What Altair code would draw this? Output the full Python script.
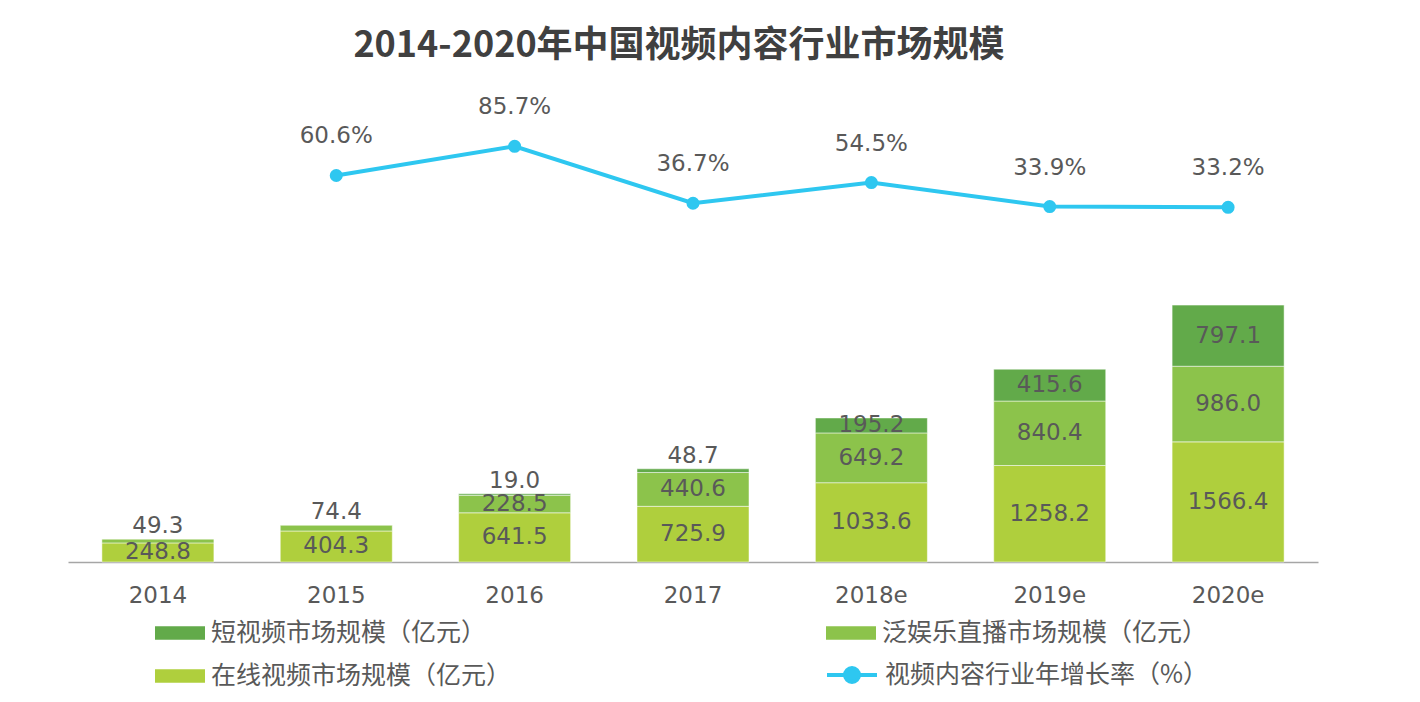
import altair as alt
import pandas as pd

years = ["2014", "2015", "2016", "2017", "2018e", "2019e", "2020e"]
online = [248.8, 404.3, 641.5, 725.9, 1033.6, 1258.2, 1566.4]
live = [49.3, 74.4, 228.5, 440.6, 649.2, 840.4, 986.0]
short = [None, None, 19.0, 48.7, 195.2, 415.6, 797.1]
growth = [None, 60.6, 85.7, 36.7, 54.5, 33.9, 33.2]

S_SHORT = "短视频市场规模（亿元）"
S_LIVE = "泛娱乐直播市场规模（亿元）"
S_ONLINE = "在线视频市场规模（亿元）"
S_RATE = "视频内容行业年增长率（%）"

series_names = [S_SHORT, S_LIVE, S_ONLINE]
series_colors = ["#62AA4A", "#8CC34B", "#AFCF3D"]
stack_rank = {S_ONLINE: 0, S_LIVE: 1, S_SHORT: 2}

rows = []
for i, y in enumerate(years):
    for name, vals in [(S_ONLINE, online), (S_LIVE, live), (S_SHORT, short)]:
        v = vals[i]
        if v is not None:
            rows.append({"year": y, "series": name, "value": v, "rank": stack_rank[name]})
bars_df = pd.DataFrame(rows)

line_df = pd.DataFrame({"year": years, "rate": growth, "name": [S_RATE] * len(years)}).dropna()

FONT = "Noto Sans CJK SC"
NUMFONT = "DejaVu Sans"
TXT = "#595959"
LINE_C = "#2EC7F0"

xenc = alt.X("year:N", sort=years, title=None,
             scale=alt.Scale(paddingInner=0.372, paddingOuter=0.19),
             axis=alt.Axis(labelFontSize=23, labelColor=TXT, labelFont=NUMFONT, ticks=False,
                           domainColor="#A6A6A6", domainWidth=1.5, labelPadding=22, labelAngle=0))

rect_path = "M-1,-0.27L1,-0.27L1,0.27L-1,0.27Z"
line_path = "M-1,0L1,0M-0.28,0A0.28,0.28,0,1,0,0.28,0A0.28,0.28,0,1,0,-0.28,0Z"

base = alt.Chart(bars_df).transform_stack(
    stack="value", groupby=["year"], as_=["y0", "y1"], sort=[alt.SortField("rank", order="ascending")]
).transform_calculate(mid="(datum.y0 + datum.y1) / 2")

yscale = alt.Scale(domain=[0, 6076])

bars = base.mark_bar(stroke="white", strokeWidth=0.5).encode(
    x=xenc,
    y=alt.Y("y0:Q", scale=yscale, axis=None),
    y2="y1:Q",
    color=alt.Color("series:N", scale=alt.Scale(domain=series_names, range=series_colors),
                    legend=alt.Legend(orient="none", legendX=87, legendY=512, columns=2,
                                      direction="horizontal",
                                      title=None, symbolType=rect_path, symbolSize=2500,
                                      symbolStrokeWidth=0, labelFontSize=25, labelFont=FONT,
                                      labelColor=TXT, labelOffset=6, columnPadding=314,
                                      rowPadding=5, labelLimit=500)),
)

big_text = base.transform_filter("datum.value >= 100").mark_text(
    fontSize=23, font=NUMFONT, color=TXT, baseline="middle"
).encode(x=alt.X("year:N", sort=years), y=alt.Y("mid:Q", scale=yscale, axis=None),
         text=alt.Text("value:Q", format=".1f"))

small_text = base.transform_filter("datum.value < 100").mark_text(
    fontSize=23, font=NUMFONT, color=TXT, baseline="middle", dy=-13
).encode(x=alt.X("year:N", sort=years), y=alt.Y("y1:Q", scale=yscale, axis=None),
         text=alt.Text("value:Q", format=".1f"))

bar_layer = alt.layer(bars, big_text, small_text)

rscale = alt.Scale(domain=[-272, 129])
lbase = alt.Chart(line_df)
line = lbase.mark_line(strokeWidth=4).encode(
    x=alt.X("year:N", sort=years),
    y=alt.Y("rate:Q", scale=rscale, axis=None),
    stroke=alt.Stroke("name:N", scale=alt.Scale(domain=[S_RATE], range=[LINE_C]),
                      legend=alt.Legend(orient="none", legendX=757, legendY=552, title=None,
                                        symbolType=line_path, symbolSize=2500,
                                        symbolFillColor=LINE_C, symbolStrokeWidth=4,
                                        labelFontSize=25, labelFont=FONT, labelColor=TXT,
                                        labelOffset=6, labelLimit=500)),
)
pts = lbase.mark_circle(size=170, color=LINE_C, opacity=1).encode(
    x=alt.X("year:N", sort=years), y=alt.Y("rate:Q", scale=rscale, axis=None))
ptxt = lbase.transform_calculate(lab="format(datum.rate, '.1f') + '%'").mark_text(
    fontSize=23, font=NUMFONT, color=TXT, baseline="middle", dy=-39).encode(
    x=alt.X("year:N", sort=years), y=alt.Y("rate:Q", scale=rscale, axis=None), text="lab:N")

line_layer = alt.layer(line, pts, ptxt)

chart = alt.layer(bar_layer, line_layer).resolve_scale(y="independent").properties(
    width=1250, height=466,
    padding={"left": 60, "top": 20, "right": 10, "bottom": 10},
    title=alt.TitleParams("2014-2020年中国视频内容行业市场规模", fontSize=36, font=FONT,
                          fontWeight="bold", color="#404040", offset=31, dx=-14),
).configure_view(stroke=None)

chart.save("out.html", embed_options={"renderer": "svg", "actions": False})
